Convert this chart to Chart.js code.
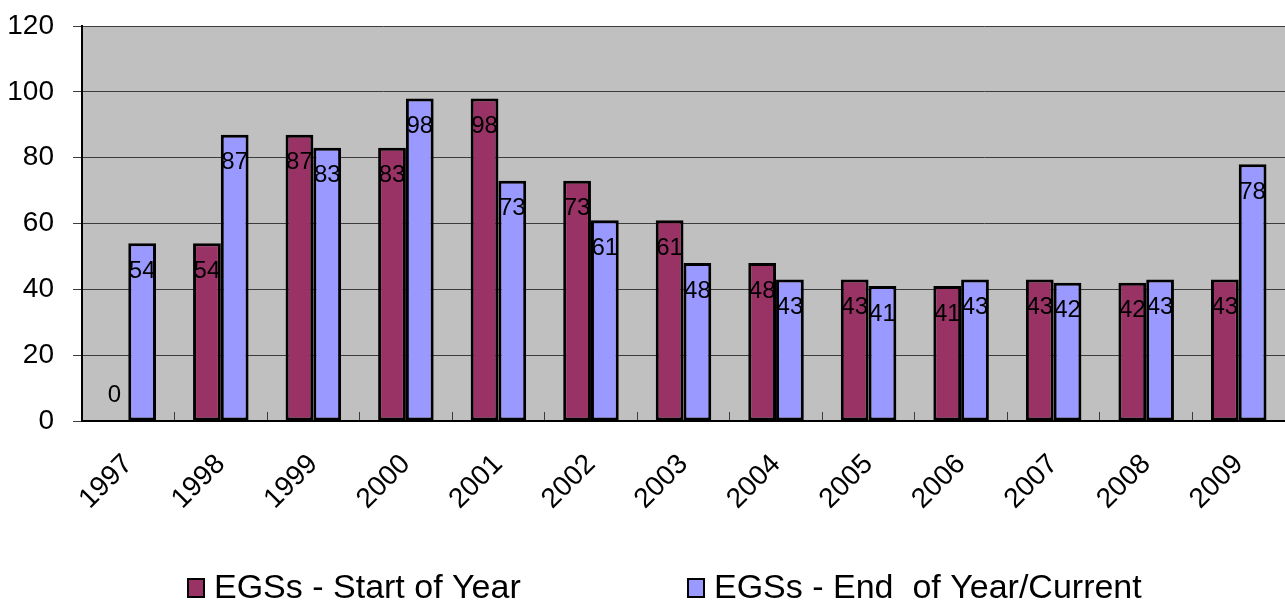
<!DOCTYPE html>
<html>
<head>
<meta charset="utf-8">
<script src="https://cdn.jsdelivr.net/npm/chart.js@4/dist/chart.umd.min.js"></script>
<style>
  html, body { margin: 0; padding: 0; background: #ffffff; }
  #wrap { width: 1285px; height: 604px; }
</style>
</head>
<body>
<div id="wrap"><canvas id="c" width="1285" height="604"></canvas></div>
<script>
// Yearly counts of EGSs, at the start and at the end of each year
const years = ['1997', '1998', '1999', '2000', '2001', '2002', '2003', '2004', '2005', '2006', '2007', '2008', '2009'];
const startOfYear = [0, 54, 87, 83, 98, 73, 61, 48, 43, 41, 43, 42, 43];
const endOfYear = [54, 87, 83, 98, 73, 61, 48, 43, 41, 43, 42, 43, 78];
const seriesNames = ['EGSs - Start of Year', 'EGSs - End  of Year/Current'];
const yMin = 0, yMax = 120, yStep = 20;

const FONT = '"Liberation Sans", Arial, sans-serif';
const MAROON = '#993366';
const PERIWINKLE = '#9999ff';
const PLOT_BG = '#c0c0c0';
const GRID = '#3c3c3c';

// grey fill behind the plotting area
const plotBackground = {
  id: 'plotBackground',
  beforeDraw(chart) {
    const { ctx, chartArea: a } = chart;
    ctx.save();
    ctx.fillStyle = PLOT_BG;
    ctx.fillRect(a.left, a.top, a.right - a.left, a.bottom - a.top);
    ctx.restore();
  }
};

// value written near the top of each bar
const valueLabels = {
  id: 'valueLabels',
  afterDatasetsDraw(chart) {
    const ctx = chart.ctx;
    const base = chart.scales.y.getPixelForValue(0);
    ctx.save();
    ctx.font = '24px ' + FONT;
    ctx.fillStyle = '#000';
    ctx.textAlign = 'center';
    ctx.textBaseline = 'middle';
    chart.data.datasets.forEach((ds, i) => {
      chart.getDatasetMeta(i).data.forEach((bar, j) => {
        const y = Math.min(bar.y + 28, base - 26);
        ctx.fillText(String(ds.data[j]), bar.x, y);
      });
    });
    ctx.restore();
  }
};

// legend row under the axis labels
const bottomLegend = {
  id: 'bottomLegend',
  afterDraw(chart) {
    const ctx = chart.ctx;
    const slots = [187, 687];
    const cy = 588;
    ctx.save();
    ctx.font = '34px ' + FONT;
    ctx.textBaseline = 'middle';
    ctx.textAlign = 'left';
    chart.data.datasets.forEach((ds, i) => {
      const x = slots[i];
      ctx.fillStyle = ds.backgroundColor;
      ctx.fillRect(x, cy - 10, 18, 20);
      ctx.lineWidth = 2;
      ctx.strokeStyle = '#000';
      ctx.strokeRect(x + 1, cy - 9, 16, 18);
      ctx.fillStyle = '#000';
      ctx.fillText(ds.label, x + 27, cy + 1);
    });
    ctx.restore();
  }
};

const chart = new Chart(document.getElementById('c'), {
  type: 'bar',
  data: {
    labels: years,
    datasets: [
      {
        label: seriesNames[0],
        data: startOfYear,
        backgroundColor: MAROON,
        borderColor: '#000',
        borderWidth: ctx => (ctx.raw === 0 ? 0 : 3),
        borderSkipped: false
      },
      {
        label: seriesNames[1],
        data: endOfYear,
        backgroundColor: PERIWINKLE,
        borderColor: '#000',
        borderWidth: ctx => (ctx.raw === 0 ? 0 : 3),
        borderSkipped: false
      }
    ]
  },
  options: {
    responsive: false,
    animation: false,
    devicePixelRatio: 1,
    layout: { padding: { top: 26, right: 0, left: 0, bottom: 0 } },
    datasets: {
      bar: { categoryPercentage: 0.6, barPercentage: 1.0 }
    },
    plugins: {
      legend: { display: false },
      tooltip: { enabled: false }
    },
    scales: {
      x: {
        offset: true,
        grid: {
          offset: true,
          drawOnChartArea: false,
          drawTicks: true,
          tickLength: -9,
          color: GRID,
          lineWidth: 1
        },
        border: { display: true, color: '#000', width: 2 },
        ticks: {
          autoSkip: false,
          minRotation: 45,
          maxRotation: 45,
          padding: 36,
          color: '#000',
          font: { family: FONT, size: 28 }
        },
        afterFit(scale) {
          scale.height = 183;
          scale.paddingRight = 0;
          scale.paddingLeft = 0;
        }
      },
      y: {
        min: yMin,
        max: yMax,
        ticks: {
          stepSize: yStep,
          padding: 19,
          color: '#000',
          font: { family: FONT, size: 28 }
        },
        grid: {
          color: GRID,
          lineWidth: 1,
          drawTicks: true,
          tickLength: 9
        },
        border: { display: true, color: '#000', width: 2 },
        afterFit(scale) {
          scale.width = 82;
          scale.paddingTop = 0;
          scale.paddingBottom = 0;
        }
      }
    }
  },
  plugins: [plotBackground, valueLabels, bottomLegend]
});
</script>
</body>
</html>
